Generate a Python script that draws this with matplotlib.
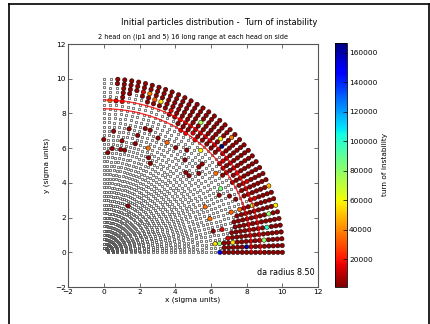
import numpy as np
import matplotlib
matplotlib.use('Agg')
import matplotlib.pyplot as plt
from matplotlib.lines import Line2D

# initial grid of the scan (polar: angle index x amplitude)
angles_deg = np.linspace(0, 90, 41)
radii = np.arange(0.25, 10.01, 0.25)

# amplitude (sigma) from which particles are lost, one value per angle index
boundary = [6.75, 6.75, 6.75, 6.75, 7.25, 7.5, 7.5, 7.75, 8.25, 8.5,
            8.5, 8.5, 8.5, 8.25, 8.25, 8.25, 8.25, 8.25, 8.5, 8.5,
            8.5, 8.5, 8.25, 8.5, 8.5, 8.5, 8.5, 8.5, 8.75, 8.75,
            8.75, 8.75, 9.0, 8.75, 9.0, 9.25, 8.75, 9.0, 9.75, 10.5,
            10.5]

# lost particles found inside the stable core: (angle index, amplitude)
inner_lost = [(40, 6.5), (39, 5.75), (38, 7.0), (38, 6.0), (38, 8.75),
              (39, 8.75), (37, 8.75), (36, 6.5), (36, 6.0), (35, 7.25),
              (35, 6.0), (33, 7.0), (33, 6.5), (32, 7.5), (31, 7.5),
              (30, 6.5), (29, 7.25), (29, 6.0), (28, 5.75), (28, 3.0),
              (27, 7.25), (26, 8.25), (25, 8.25), (25, 7.25), (23, 8.25),
              (23, 7.5), (22, 7.0), (21, 8.0), (20, 6.5), (19, 7.25),
              (19, 7.5), (19, 6.5), (18, 7.0), (16, 7.75), (15, 8.0),
              (13, 7.5), (12, 7.25), (11, 7.75), (11, 6.25), (10, 8.0),
              (8, 7.5), (8, 8.0), (8, 6.25), (5, 6.75), (5, 6.25),
              (2, 6.25), (2, 6.5), (0, 6.5)]

# particles in the lost region that stayed (squares among the dots)
outer_stable = [(36, 8.75), (36, 9.0), (35, 9.25), (34, 9.0), (33, 8.75),
                (31, 8.75), (30, 8.75), (22, 8.25), (18, 8.5), (14, 8.25),
                (9, 8.5), (3, 6.75)]

# turn of instability
default_turn = 4000
turn_override = {
    (39, 8.75): 35000, (33, 9.5): 38000, (32, 9.25): 30000, (31, 9.25): 55000,
    (30, 6.5): 35000, (27, 7.25): 33000, (21, 8.0): 58000, (24, 9.25): 75000,
    (20, 9.25): 58000, (19, 9.75): 38000, (19, 9.0): 166000, (16, 7.75): 35000,
    (13, 7.5): 85000, (10, 10.0): 48000, (7, 10.0): 58000, (11, 6.25): 35000,
    (8, 7.5): 33000, (8, 8.0): 35000, (6, 9.5): 80000, (8, 6.25): 35000,
    (4, 9.25): 100000, (2, 9.0): 80000, (2, 6.25): 55000, (2, 6.5): 80000,
    (2, 7.25): 55000, (0, 6.5): 150000, (1, 8.0): 160000, (8, 8.75): 70000,
    (38, 8.75): 15000, (37, 8.75): 15000, (26, 8.25): 15000, (25, 8.25): 15000,
    (23, 8.25): 15000, (34, 9.5): 15000, (29, 9.0): 15000, (27, 8.75): 15000,
    (24, 8.5): 15000, (17, 8.5): 15000, (14, 8.75): 15000, (12, 9.0): 15000,
    (5, 6.75): 15000, (9, 9.0): 15000, (3, 7.0): 15000,
}
turn_min, turn_max = 1200, 166600

da_radius = 8.50
curve_radii = [8.27, 8.78]

stable_x, stable_y = [], []
lost_x, lost_y, lost_t = [], [], []
inner = set(inner_lost)
keep = set(outer_stable)
for i, a in enumerate(angles_deg):
    th = np.deg2rad(a)
    for r in radii:
        key = (i, round(r, 2))
        lost = (r >= boundary[i] or key in inner) and key not in keep
        x, y = r * np.cos(th), r * np.sin(th)
        if lost:
            lost_x.append(x)
            lost_y.append(y)
            lost_t.append(turn_override.get(key, default_turn))
        else:
            stable_x.append(x)
            stable_y.append(y)

fig = plt.figure(figsize=(4.31, 3.24), dpi=100)
ax = fig.add_axes([0.158, 0.114, 0.580, 0.750])
cax = fig.add_axes([0.777, 0.115, 0.028, 0.752])

ax.scatter(stable_x, stable_y, s=4.2, marker='s', facecolor='white',
           edgecolor='#333333', linewidths=0.45, zorder=2)
sc = ax.scatter(lost_x, lost_y, s=10, marker='o', c=lost_t, cmap='jet_r',
                vmin=turn_min, vmax=turn_max, edgecolor='black',
                linewidths=0.35, zorder=3)

th = np.linspace(0, np.pi / 2, 200)
for rc in curve_radii:
    ax.plot(rc * np.cos(th), rc * np.sin(th), color='red', lw=1.0,
            alpha=0.8, zorder=4)

ax.set_xlim(-2, 12)
ax.set_ylim(-2, 12)
ax.set_xticks(range(-2, 13, 2))
ax.set_yticks(range(-2, 13, 2))
ax.tick_params(direction='in', top=True, right=True, labelsize=5.3,
               length=3, width=0.5, pad=1.5, colors='#333333',
               labelcolor='black')
for sp in ax.spines.values():
    sp.set_color('#555555')
    sp.set_linewidth(0.8)
ax.set_xlabel('x (sigma units)', fontsize=5.3, labelpad=1)
ax.set_ylabel('y (sigma units)', fontsize=5.3, labelpad=4)
ax.set_title('2 head on (ip1 and 5) 16 long range at each head on side',
             fontsize=4.7, pad=4)
fig.text(0.508, 0.93, 'Initial particles distribution -  Turn of instability',
         fontsize=6.0, ha='center', va='center')
ax.text(0.985, 0.04, 'da radius %.2f' % da_radius, transform=ax.transAxes,
        ha='right', va='bottom', fontsize=5.8)

cb = fig.colorbar(sc, cax=cax)
cb.set_ticks(range(20000, 160001, 20000))
cb.ax.tick_params(labelsize=5.3, direction='in', length=3, width=0.5, pad=1.5)
cb.outline.set_linewidth(0.6)
cb.set_label('turn of instability', fontsize=5.3, labelpad=3)

# window frame around the figure
for xs, ys in [([9 / 431, 9 / 431], [0, 1 - 4 / 324]),
               ([9 / 431, 429 / 431], [1 - 4 / 324, 1 - 4 / 324]),
               ([429 / 431, 429 / 431], [1 - 4 / 324, 0])]:
    fig.add_artist(Line2D(xs, ys, color='black', lw=1.2))

fig.savefig('out.png', dpi=100)
